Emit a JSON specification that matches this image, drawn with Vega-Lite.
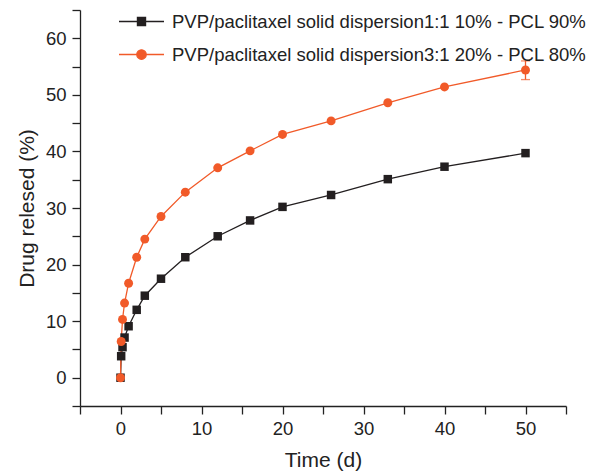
{
  "$schema": "https://vega.github.io/schema/vega-lite/v6.json",
  "width": 486,
  "height": 396,
  "autosize": {"type": "none"},
  "padding": {"left": 80, "top": 10, "right": 38, "bottom": 69},
  "background": "white",
  "config": {
    "font": "Liberation Sans",
    "view": {"stroke": null},
    "axis": {"grid": false, "domainColor": "#222", "tickColor": "#222", "domainWidth": 1.3, "tickWidth": 1.3, "labelColor": "#222", "titleColor": "#222", "labelFontSize": 18.5, "titleFontSize": 21, "titleFontWeight": "normal", "tickSize": 8}
  },
  "datasets": {
    "release": [
      {"t": 0, "v": 0, "s": "PVP/paclitaxel solid dispersion1:1 10% - PCL 90%"},
      {"t": 0.083, "v": 3.8, "s": "PVP/paclitaxel solid dispersion1:1 10% - PCL 90%"},
      {"t": 0.25, "v": 5.4, "s": "PVP/paclitaxel solid dispersion1:1 10% - PCL 90%"},
      {"t": 0.5, "v": 7.1, "s": "PVP/paclitaxel solid dispersion1:1 10% - PCL 90%"},
      {"t": 1, "v": 9.1, "s": "PVP/paclitaxel solid dispersion1:1 10% - PCL 90%"},
      {"t": 2, "v": 12.0, "s": "PVP/paclitaxel solid dispersion1:1 10% - PCL 90%"},
      {"t": 3, "v": 14.5, "s": "PVP/paclitaxel solid dispersion1:1 10% - PCL 90%"},
      {"t": 5, "v": 17.5, "s": "PVP/paclitaxel solid dispersion1:1 10% - PCL 90%"},
      {"t": 8, "v": 21.3, "s": "PVP/paclitaxel solid dispersion1:1 10% - PCL 90%"},
      {"t": 12, "v": 25.0, "s": "PVP/paclitaxel solid dispersion1:1 10% - PCL 90%"},
      {"t": 16, "v": 27.8, "s": "PVP/paclitaxel solid dispersion1:1 10% - PCL 90%"},
      {"t": 20, "v": 30.2, "s": "PVP/paclitaxel solid dispersion1:1 10% - PCL 90%"},
      {"t": 26, "v": 32.3, "s": "PVP/paclitaxel solid dispersion1:1 10% - PCL 90%"},
      {"t": 33, "v": 35.1, "s": "PVP/paclitaxel solid dispersion1:1 10% - PCL 90%"},
      {"t": 40, "v": 37.3, "s": "PVP/paclitaxel solid dispersion1:1 10% - PCL 90%"},
      {"t": 50, "v": 39.7, "s": "PVP/paclitaxel solid dispersion1:1 10% - PCL 90%"},
      {"t": 0, "v": 0, "s": "PVP/paclitaxel solid dispersion3:1 20% - PCL 80%"},
      {"t": 0.083, "v": 6.4, "s": "PVP/paclitaxel solid dispersion3:1 20% - PCL 80%"},
      {"t": 0.25, "v": 10.3, "s": "PVP/paclitaxel solid dispersion3:1 20% - PCL 80%"},
      {"t": 0.5, "v": 13.2, "s": "PVP/paclitaxel solid dispersion3:1 20% - PCL 80%"},
      {"t": 1, "v": 16.7, "s": "PVP/paclitaxel solid dispersion3:1 20% - PCL 80%"},
      {"t": 2, "v": 21.3, "s": "PVP/paclitaxel solid dispersion3:1 20% - PCL 80%"},
      {"t": 3, "v": 24.5, "s": "PVP/paclitaxel solid dispersion3:1 20% - PCL 80%"},
      {"t": 5, "v": 28.5, "s": "PVP/paclitaxel solid dispersion3:1 20% - PCL 80%"},
      {"t": 8, "v": 32.8, "s": "PVP/paclitaxel solid dispersion3:1 20% - PCL 80%"},
      {"t": 12, "v": 37.1, "s": "PVP/paclitaxel solid dispersion3:1 20% - PCL 80%"},
      {"t": 16, "v": 40.1, "s": "PVP/paclitaxel solid dispersion3:1 20% - PCL 80%"},
      {"t": 20, "v": 43.0, "s": "PVP/paclitaxel solid dispersion3:1 20% - PCL 80%"},
      {"t": 26, "v": 45.4, "s": "PVP/paclitaxel solid dispersion3:1 20% - PCL 80%"},
      {"t": 33, "v": 48.6, "s": "PVP/paclitaxel solid dispersion3:1 20% - PCL 80%"},
      {"t": 40, "v": 51.4, "s": "PVP/paclitaxel solid dispersion3:1 20% - PCL 80%"},
      {"t": 50, "v": 54.4, "s": "PVP/paclitaxel solid dispersion3:1 20% - PCL 80%"}
    ],
    "err": [
      {"t": 50, "v": 52.7, "v2": 56.0, "s": "PVP/paclitaxel solid dispersion3:1 20% - PCL 80%"}
    ]
  },
  "encoding": {
    "x": {
      "field": "t", "type": "quantitative",
      "scale": {"domain": [-5, 55], "nice": false, "zero": false},
      "axis": {
        "title": "Time (d)", "values": [-5, 0, 5, 10, 15, 20, 25, 30, 35, 40, 45, 50, 55],
        "labelExpr": "datum.value % 10 == 0 ? datum.label : ''",
        "labelPadding": 5, "titlePadding": 12,
        "encode": {"ticks": {"update": {"y2": {"signal": "datum.value % 10 == 0 ? 8 : 4.5"}}}}
      }
    },
    "y": {
      "field": "v", "type": "quantitative",
      "scale": {"domain": [-5, 65], "nice": false, "zero": false},
      "axis": {
        "title": "Drug relesed (%)", "values": [-5, 0, 5, 10, 15, 20, 25, 30, 35, 40, 45, 50, 55, 60, 65],
        "labelExpr": "datum.value % 10 == 0 ? datum.label : ''",
        "labelPadding": 6, "titlePadding": 8,
        "encode": {"ticks": {"update": {"x2": {"signal": "datum.value % 10 == 0 ? -8 : -4"}}}}
      }
    },
    "color": {
      "field": "s", "type": "nominal",
      "scale": {"domain": ["PVP/paclitaxel solid dispersion1:1 10% - PCL 90%", "PVP/paclitaxel solid dispersion3:1 20% - PCL 80%"], "range": ["#231f20", "#f15a29"]},
      "legend": {
        "title": null, "orient": "none", "legendX": 38, "legendY": -12,
        "labelFontSize": 18.5, "labelColor": "#222", "labelOffset": 7, "rowPadding": -13.4,
        "symbolSize": 2025, "symbolStrokeWidth": 1.3, "labelLimit": 0,
        "encode": {
          "symbols": {
            "update": {
              "shape": {"signal": "datum.value == 'PVP/paclitaxel solid dispersion1:1 10% - PCL 90%' ? 'M-1,0H1M-0.18,-0.18H0.18V0.18H-0.18Z' : 'M-1,0H1M0.21,0A0.21,0.21 0 1,1 -0.21,0A0.21,0.21 0 1,1 0.21,0Z'"},
              "fill": {"scale": "color", "field": "value"},
              "stroke": {"scale": "color", "field": "value"},
              "strokeWidth": {"value": 1.3},
              "opacity": {"value": 1}
            }
          }
        }
      }
    }
  },
  "layer": [
    {
      "data": {"name": "release"},
      "mark": {"type": "line", "strokeWidth": 1.3}
    },
    {
      "data": {"name": "err"},
      "mark": {"type": "errorbar", "ticks": {"size": 9, "thickness": 1.3}, "rule": {"strokeWidth": 1.3}},
      "encoding": {"y2": {"field": "v2"}}
    },
    {
      "data": {"name": "release"},
      "mark": {"type": "point", "filled": true, "opacity": 1},
      "encoding": {
        "shape": {"field": "s", "type": "nominal", "scale": {"range": ["square", "circle"]}, "legend": null},
        "size": {"field": "s", "type": "nominal", "scale": {"range": [72, 80]}, "legend": null}
      }
    }
  ]
}
